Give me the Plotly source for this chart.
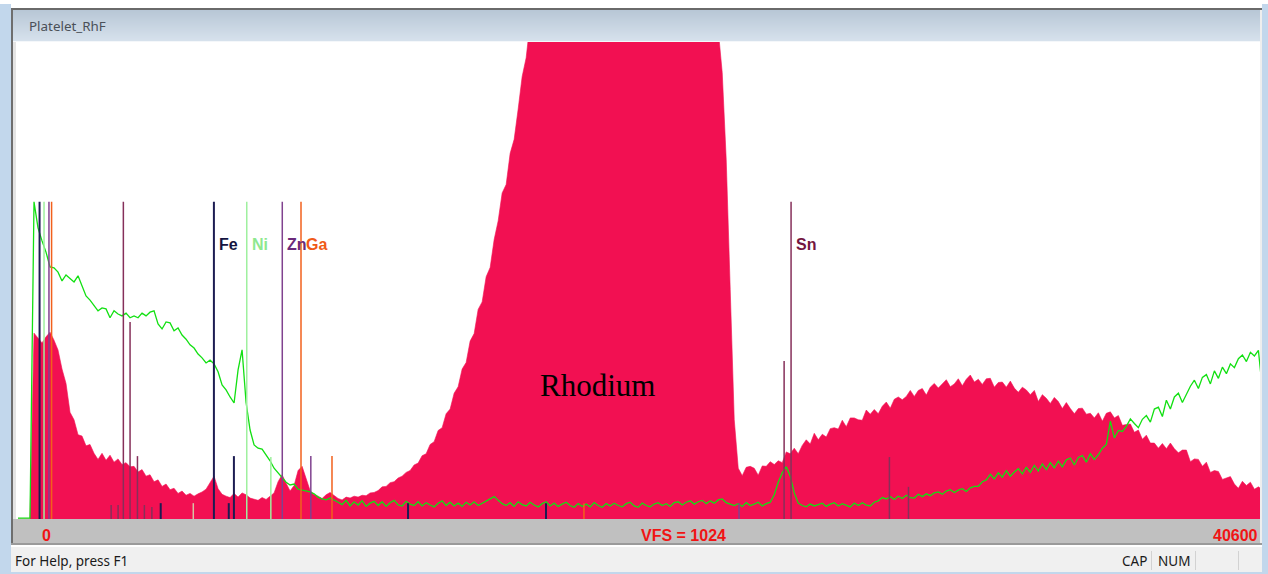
import plotly.graph_objects as go

# ---------------- data ----------------
BIN_KEV = 0.1308          # width of one spectrum bin (keV)
VFS = 1024                # vertical full scale (counts)
E_MAX_KEV = 40.6

# Red spectrum (Platelet_RhF), counts per bin
red_counts = [
    0, 0, 0, 0, 399, 389, 378, 391, 401, 384,
    363, 322, 291, 229, 213, 181, 178, 157, 160, 141,
    128, 141, 126, 137, 122, 129, 117, 121, 112, 113,
    101, 106, 92, 95, 80, 84, 70, 75, 63, 66,
    55, 60, 51, 55, 49, 54, 58, 64, 79, 92,
    65, 53, 49, 46, 55, 47, 56, 52, 45, 43,
    40, 46, 42, 49, 56, 80, 95, 77, 60, 72,
    104, 113, 86, 61, 52, 49, 44, 52, 57, 50,
    44, 41, 47, 45, 49, 47, 51, 50, 56, 57,
    61, 69, 70, 78, 80, 88, 92, 100, 104, 116,
    120, 136, 140, 160, 166, 190, 196, 226, 236, 270,
    284, 322, 336, 382, 398, 450, 466, 520, 540, 600,
    640, 700, 718, 785, 815, 880, 950, 990, 1080, 1150,
    1230, 1310, 1400, 1490, 1580, 1670, 1760, 1850, 1940, 2020,
    2100, 2170, 2240, 2300, 2350, 2400, 2440, 2470, 2490, 2500,
    2505, 2500, 2490, 2470, 2440, 2400, 2360, 2310, 2250, 2190,
    2120, 2050, 1980, 1900, 1820, 1740, 1660, 1580, 1500, 1420,
    1340, 1270, 1200, 1140, 1090, 1050, 958, 771, 492, 213,
    109, 93, 111, 113, 109, 94, 114, 113, 123, 117,
    125, 121, 144, 140, 152, 140, 158, 170, 161, 184,
    170, 182, 176, 194, 196, 193, 212, 198, 217, 217,
    213, 212, 234, 225, 235, 226, 242, 251, 238, 257,
    262, 256, 263, 276, 263, 276, 280, 266, 283, 291,
    281, 289, 299, 284, 290, 301, 286, 300, 309, 294,
    300, 289, 301, 302, 283, 293, 294, 283, 296, 281,
    272, 283, 277, 267, 276, 252, 267, 259, 248, 261,
    252, 237, 250, 237, 226, 237, 238, 225, 227, 217,
    228, 210, 227, 230, 217, 222, 201, 203, 204, 186,
    191, 171, 180, 163, 163, 152, 162, 151, 163, 151,
    142, 148, 148, 123, 129, 128, 113, 122, 100, 104,
    102, 85, 88, 91, 75, 66, 81, 72, 79, 64,
    69, 63, 70,
]

# Green overlay spectrum, counts per bin
green_counts = [
    2, 2, 2, 2, 681, 625, 597, 573, 541, 539,
    530, 511, 524, 517, 509, 522, 502, 479, 470, 459,
    447, 453, 451, 432, 447, 440, 436, 442, 432, 436,
    432, 442, 436, 444, 447, 419, 408, 423, 421, 404,
    410, 395, 386, 374, 367, 354, 346, 335, 341, 333,
    316, 288, 277, 262, 249, 320, 363, 250, 191, 159,
    152, 150, 137, 125, 109, 99, 90, 79, 73, 75,
    64, 62, 60, 58, 54, 47, 43, 41, 45, 41,
    36, 31, 40, 28, 37, 30, 39, 27, 34, 38,
    29, 37, 27, 35, 40, 30, 28, 38, 32, 29,
    37, 28, 35, 30, 26, 34, 39, 29, 36, 28,
    34, 27, 36, 30, 37, 29, 34, 38, 43, 48,
    40, 33, 29, 35, 27, 37, 31, 28, 36, 30,
    26, 33, 37, 28, 34, 27, 32, 36, 29, 25,
    33, 27, 32, 26, 35, 29, 25, 33, 28, 34,
    29, 26, 33, 36, 28, 25, 34, 29, 26, 32,
    35, 29, 33, 27, 35, 37, 30, 36, 39, 32,
    37, 40, 33, 39, 34, 41, 43, 35, 32, 29,
    33, 27, 35, 29, 32, 36, 28, 33, 36, 52,
    79, 99, 112, 92, 56, 34, 29, 26, 32, 28,
    31, 34, 27, 32, 35, 28, 33, 29, 26, 34,
    29, 35, 30, 28, 36, 39, 46, 43, 48, 42,
    49, 44, 51, 46, 45, 53, 48, 54, 50, 56,
    58, 53, 60, 63, 57, 62, 65, 59, 67, 70,
    70, 80, 84, 96, 86, 99, 90, 104, 92, 101,
    108, 97, 111, 100, 115, 103, 118, 106, 121, 110,
    124, 112, 127, 131, 116, 132, 136, 122, 140, 128,
    138, 152, 160, 210, 174, 190, 188, 199, 215, 205,
    196, 214, 222, 208, 236, 240, 220, 255, 236, 262,
    270, 250, 268, 285, 298, 280, 304, 310, 290, 318,
    302, 326, 312, 333, 325, 344, 352, 338, 358, 350,
    362, 277,
]

# Element line markers: energy (keV), marker height (counts), element
marker_energy = [0.705, 6.404, 7.058, 4.665, 6.890, 12.75, 17.26,
                 0.851, 7.478, 8.265,
                 1.012, 8.639, 9.572, 23.57,
                 1.098, 9.251, 10.264, 18.50,
                 3.444, 3.663, 3.905, 3.045, 3.272, 4.131, 4.376,
                 25.044, 25.271, 28.486, 29.109,
                 5.730]
marker_height = [681, 681, 135, 34, 34, 34, 34,
                 681, 681, 133,
                 681, 681, 135, 34,
                 681, 681, 135, 34,
                 681, 423, 135, 30, 30, 30, 26,
                 339, 681, 133, 69,
                 34]
marker_element = ["Fe", "Fe", "Fe", "Fe", "Fe", "Fe", "Fe",
                  "Ni", "Ni", "Ni",
                  "Zn", "Zn", "Zn", "Zn",
                  "Ga", "Ga", "Ga", "Ga",
                  "Sn", "Sn", "Sn", "Sn", "Sn", "Sn", "Sn",
                  "Sn", "Sn", "Sn", "Sn",
                  "esc"]

label_names = ["Fe", "Ni", "Zn", "Ga", "Sn"]
label_energy = [6.404, 7.478, 8.639, 9.251, 25.271]
label_level = 590

peak_name = "Rhodium"
peak_energy = 18.93
peak_level = 286

spectrum_title = "Platelet_RhF"
axis_left_label = "0"
axis_mid_label = "VFS = 1024"
axis_right_label = "40600"
status_text = "For Help, press F1"

# ---------------- styles ----------------
W, H = 1268, 574
PL, PR, PT, PB = 18, 1260, 42, 519
el_line_color = {"Fe": "#1c1c52", "Ni": "#9ff09f", "Zn": "#80428f",
                 "Ga": "#f2601c", "Sn": "#86305a", "esc": "#d8c2a4"}
el_text_color = {"Fe": "#141440", "Ni": "#8ee88e", "Zn": "#6a2a7a",
                 "Ga": "#f05a18", "Sn": "#74163f"}


def px(x):
    return (x - PL) / (PR - PL)


def py(y):
    return (PB - y) / (PB - PT)


fig = go.Figure()

x_red = [i * BIN_KEV for i in range(len(red_counts))]
fig.add_trace(go.Scatter(
    x=x_red, y=red_counts, mode="lines",
    line=dict(color="#f21052", width=0.6),
    fill="tozeroy", fillcolor="#f21052", hoverinfo="skip", showlegend=False))

x_green = [i * BIN_KEV for i in range(len(green_counts))]
fig.add_trace(go.Scatter(
    x=x_green, y=green_counts, mode="lines",
    line=dict(color="#12e012", width=1.3),
    hoverinfo="skip", showlegend=False))

for el, col in el_line_color.items():
    xs, ys = [], []
    for e, h, m in zip(marker_energy, marker_height, marker_element):
        if m == el:
            xs += [e, e, None]
            ys += [0, h, None]
    fig.add_trace(go.Scatter(
        x=xs, y=ys, mode="lines",
        line=dict(color=col, width=2 if el == "Fe" else 1.5),
        hoverinfo="skip", showlegend=False))

annotations = []
for name, e in zip(label_names, label_energy):
    annotations.append(dict(
        x=e, y=label_level, xref="x", yref="y", text="<b>%s</b>" % name,
        showarrow=False, xanchor="left", yanchor="middle", xshift=3,
        font=dict(family="Liberation Sans", size=16, color=el_text_color[name])))

annotations.append(dict(
    x=peak_energy, y=peak_level, xref="x", yref="y", text=peak_name,
    showarrow=False, xanchor="center", yanchor="middle",
    font=dict(family="Liberation Serif", size=31, color="#000000")))

red_txt = dict(family="Liberation Sans", size=16, color="#f01414")
ui_txt = dict(family="Noto Sans", size=13.5, color="#1a1a1a")
annotations += [
    dict(x=px(46), y=py(535), xref="paper", yref="paper",
         text="<b>%s</b>" % axis_left_label, showarrow=False,
         xanchor="center", yanchor="middle", font=red_txt),
    dict(x=px(683), y=py(535), xref="paper", yref="paper",
         text="<b>%s</b>" % axis_mid_label, showarrow=False,
         xanchor="center", yanchor="middle", font=red_txt),
    dict(x=px(1260), y=py(535), xref="paper", yref="paper",
         text="<b>%s</b>" % axis_right_label, showarrow=False,
         xanchor="right", yanchor="middle", font=red_txt),
    dict(x=px(27), y=py(26), xref="paper", yref="paper",
         text=spectrum_title, showarrow=False, xanchor="left", yanchor="middle",
         font=dict(family="Noto Sans", size=13.4, color="#4a5058")),
    dict(x=px(13), y=py(561), xref="paper", yref="paper",
         text=status_text, showarrow=False, xanchor="left", yanchor="middle",
         font=ui_txt),
    dict(x=px(1134), y=py(561), xref="paper", yref="paper",
         text="CAP", showarrow=False, xanchor="center", yanchor="middle",
         font=ui_txt),
    dict(x=px(1174), y=py(561), xref="paper", yref="paper",
         text="NUM", showarrow=False, xanchor="center", yanchor="middle",
         font=ui_txt),
]


def rect(x0, y0, x1, y1, color, layer="above"):
    return dict(type="rect", xref="paper", yref="paper",
                x0=px(x0), x1=px(x1), y0=py(y1), y1=py(y0),
                fillcolor=color, line=dict(width=0), layer=layer)


shapes = []
# window frame
shapes.append(rect(0, 4, 11, 574, "#c2d7ec"))
shapes.append(rect(11, 8, 13, 548, "#6e6e6e"))
shapes.append(rect(13, 10, 16, 546, "#e4e4e4"))
shapes.append(rect(16, 41, 18, 519, "#ffffff"))
shapes.append(rect(1260, 10, 1262, 548, "#eeeeee"))
shapes.append(rect(1262, 4, 1268, 574, "#c2d7ec"))
shapes.append(rect(11, 8, 1262, 10, "#6a6a6a"))
# title bar gradient
top = (184, 199, 214)
bot = (214, 225, 236)
n = 31
for k in range(n):
    t = k / (n - 1)
    c = tuple(int(round(top[j] + (bot[j] - top[j]) * t)) for j in range(3))
    shapes.append(rect(13, 10 + k, 1260, 11 + k, "rgb(%d,%d,%d)" % c))
shapes.append(rect(13, 41, 1260, 42, "#f4f7fa"))
# gray band under the spectrum
shapes.append(rect(13, 519, 1260, 543, "#c0c0c0"))
shapes.append(rect(11, 543, 1262, 545, "#9a9a9a"))
shapes.append(rect(11, 545, 1262, 547, "#ffffff"))
# status bar
shapes.append(rect(11, 547, 1262, 572, "#f0f0f0"))
shapes.append(rect(0, 572, 1268, 574, "#c2d7ec"))
for sx in (1151, 1195, 1238):
    shapes.append(rect(sx, 551, sx + 1, 570, "#d2d2d2"))

fig.update_layout(
    width=W, height=H,
    margin=dict(l=PL, r=W - PR, t=PT, b=H - PB, pad=0),
    paper_bgcolor="#ffffff", plot_bgcolor="#ffffff",
    xaxis=dict(range=[0, E_MAX_KEV], visible=False, fixedrange=True),
    yaxis=dict(range=[0, VFS], visible=False, fixedrange=True),
    shapes=shapes, annotations=annotations, showlegend=False,
)

fig.write_html(
    "out.html",
    config={"displayModeBar": False},
    post_script="document.body.style.margin='0';document.body.style.overflow='hidden';",
)
